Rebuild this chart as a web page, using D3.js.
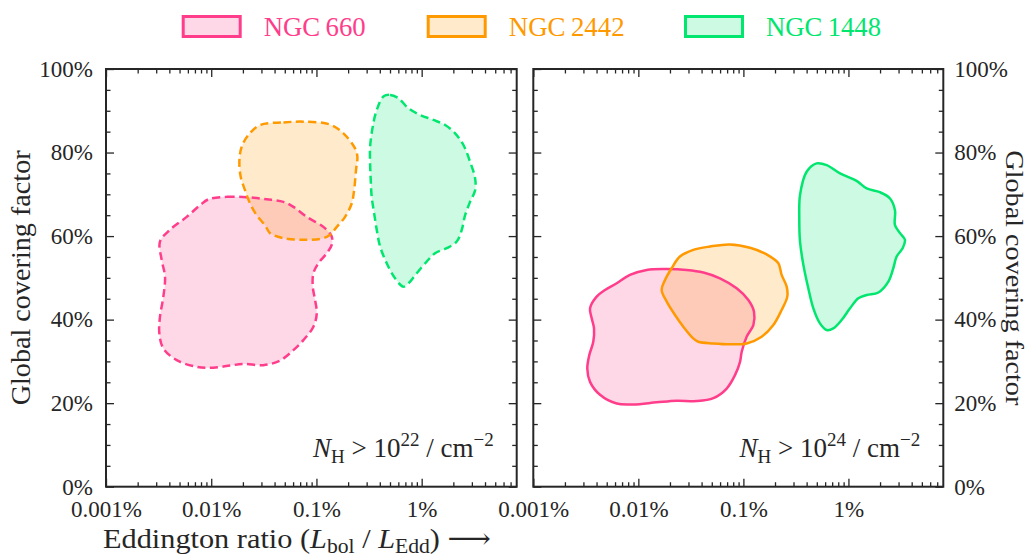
<!DOCTYPE html>
<html>
<head>
<meta charset="utf-8">
<script src="https://cdn.jsdelivr.net/npm/d3@7"></script>
<style>
  body { margin: 0; background: #fff; }
  svg { display: block; }
  svg text { font-family: "Liberation Serif", "Times New Roman", Tinos, "DejaVu Serif", "Noto Serif", serif !important; fill: #262626; }
</style>
</head>
<body>
<svg id="chart" width="1033" height="556"></svg>
<script>
// Galaxies and their colours
const galaxies = ["NGC\u2009660", "NGC\u20092442", "NGC\u20091448"];
const colors = ["#ff3d8b", "#ff9900", "#00e66e"];

// Column density thresholds (exponent of N_H in cm^-2), one per panel
const thresholds = ["22", "24"];

// Axis ticks
const xTickValues = [1e-5, 1e-4, 1e-3, 1e-2];
const xTickLabels = ["0.001%", "0.01%", "0.1%", "1%"];
const yTickValues = [0, 20, 40, 60, 80, 100];
const yTickLabels = ["0%", "20%", "40%", "60%", "80%", "100%"];

// Contours: [log10 Eddington ratio, global covering factor in %]
// N_H > 1e22 cm^-2
const ngc660_22 = [
  [-4.027, 68.8], [-3.853, 69.4], [-3.663, 69.3], [-3.473, 68.8], [-3.314, 68.2],
  [-3.219, 67.0], [-3.092, 64.6], [-2.934, 62.2], [-2.855, 59.9], [-2.855, 57.9],
  [-2.902, 55.9], [-2.982, 53.5], [-3.029, 51.1], [-3.035, 47.9], [-3.013, 44.7],
  [-2.997, 41.5], [-3.029, 38.3], [-3.124, 35.1], [-3.219, 32.7], [-3.346, 30.2],
  [-3.504, 29.1], [-3.695, 29.4], [-3.821, 29.0], [-3.980, 28.5], [-4.138, 28.7],
  [-4.328, 30.3], [-4.455, 33.1], [-4.493, 36.7], [-4.487, 40.7], [-4.455, 45.5],
  [-4.439, 50.3], [-4.471, 54.3], [-4.487, 58.7], [-4.392, 61.5], [-4.233, 64.6],
  [-4.106, 67.4]
];
const ngc2442_22 = [
  [-3.536, 86.6], [-3.314, 87.2], [-3.124, 87.4], [-2.871, 86.7], [-2.744, 84.6],
  [-2.633, 81.0], [-2.611, 79.0], [-2.624, 75.8], [-2.642, 71.0], [-2.665, 67.8],
  [-2.728, 64.6], [-2.807, 62.2], [-2.871, 60.3], [-2.934, 59.5], [-3.124, 59.1],
  [-3.314, 59.5], [-3.441, 60.7], [-3.489, 62.6], [-3.568, 65.0], [-3.631, 67.8],
  [-3.679, 71.0], [-3.720, 74.2], [-3.732, 78.2], [-3.710, 81.4], [-3.647, 84.2]
];
const ngc1448_22 = [
  [-2.364, 93.4], [-2.300, 93.8], [-2.221, 93.0], [-2.126, 90.6], [-2.015, 89.0],
  [-1.888, 87.8], [-1.777, 86.6], [-1.682, 84.6], [-1.603, 81.8], [-1.540, 77.8],
  [-1.492, 73.8], [-1.492, 71.0], [-1.540, 68.2], [-1.587, 65.0], [-1.619, 61.5],
  [-1.667, 58.7], [-1.762, 57.1], [-1.873, 55.9], [-1.952, 53.9], [-2.047, 51.1],
  [-2.126, 48.7], [-2.174, 47.9], [-2.253, 49.9], [-2.332, 53.5], [-2.395, 57.5],
  [-2.427, 61.5], [-2.452, 65.5], [-2.475, 69.4], [-2.484, 73.4], [-2.490, 77.4],
  [-2.490, 81.4], [-2.465, 86.2], [-2.427, 90.2]
];
// N_H > 1e24 cm^-2
const ngc660_24 = [
  [-4.206, 48.7], [-4.080, 50.7], [-3.921, 51.9], [-3.730, 52.1], [-3.540, 51.9],
  [-3.381, 51.3], [-3.223, 49.9], [-3.064, 47.5], [-2.953, 44.7], [-2.899, 41.9],
  [-2.905, 38.7], [-2.969, 35.9], [-3.016, 32.3], [-3.032, 29.9], [-3.080, 26.7],
  [-3.159, 23.5], [-3.286, 21.2], [-3.445, 20.5], [-3.635, 20.6], [-3.826, 20.2],
  [-4.048, 19.7], [-4.206, 19.9], [-4.365, 22.0], [-4.460, 25.1], [-4.486, 28.3],
  [-4.467, 31.5], [-4.429, 34.7], [-4.422, 37.9], [-4.444, 40.3], [-4.460, 42.7],
  [-4.397, 45.5], [-4.317, 47.1]
];
const ngc2442_24 = [
  [-3.604, 55.1], [-3.477, 56.7], [-3.318, 57.5], [-3.128, 58.0], [-2.937, 57.2],
  [-2.778, 55.6], [-2.667, 53.5], [-2.636, 50.7], [-2.588, 47.9], [-2.582, 45.5],
  [-2.636, 42.3], [-2.715, 38.7], [-2.826, 35.9], [-2.969, 34.3], [-3.128, 34.1],
  [-3.286, 34.3], [-3.429, 34.7], [-3.477, 35.5], [-3.572, 38.3], [-3.651, 41.1],
  [-3.730, 44.3], [-3.778, 47.1], [-3.746, 49.5], [-3.683, 52.3]
];
const ngc1448_24 = [
  [-2.398, 75.4], [-2.303, 77.4], [-2.207, 77.0], [-2.080, 75.0], [-1.922, 73.2],
  [-1.826, 71.4], [-1.700, 70.5], [-1.604, 69.0], [-1.557, 66.2], [-1.557, 62.6],
  [-1.509, 60.7], [-1.462, 59.1], [-1.484, 57.1], [-1.541, 55.1], [-1.573, 52.3],
  [-1.620, 49.1], [-1.715, 46.5], [-1.826, 45.9], [-1.906, 45.1], [-1.985, 42.7],
  [-2.065, 39.9], [-2.144, 37.9], [-2.207, 37.5], [-2.271, 39.1], [-2.334, 42.7],
  [-2.382, 47.5], [-2.429, 53.1], [-2.461, 58.7], [-2.468, 64.2], [-2.461, 69.8]
];

const panelContours = [
  [ngc660_22, ngc2442_22, ngc1448_22],
  [ngc660_24, ngc2442_24, ngc1448_24]
];

const FONT = "'Liberation Serif', 'Times New Roman', Tinos, 'DejaVu Serif', 'Noto Serif', serif";
const svg = d3.select("#chart").attr("font-family", FONT);
const plotTop = 69, plotBottom = 486.7;
const panelX = [[106, 516.7], [533.3, 943.3]];

const y = d3.scaleLinear().domain([0, 100]).range([plotBottom, plotTop]);
const yMinor = d3.range(0, 101, 5).filter(v => v % 20 !== 0);

function minorDecades(domain) {
  const out = [];
  for (let e = -6; e <= 0; e++) {
    for (let k = 2; k <= 9; k++) {
      const v = k * Math.pow(10, e);
      if (v > domain[0] && v < domain[1]) out.push(v);
    }
  }
  return out;
}

function styleAxis(sel) {
  sel.attr("font-family", FONT);
  sel.select(".domain").remove();
  sel.selectAll(".tick line").attr("stroke", "#262626").attr("stroke-width", 1.3);
  sel.selectAll(".tick text").attr("font-size", 23).attr("fill", "#262626");
}

panelContours.forEach((contours, p) => {
  const [x0, x1] = panelX[p];
  const x = d3.scaleLog().domain([1e-5, 0.08]).range([x0, x1]);
  const xMinor = minorDecades(x.domain());
  const g = svg.append("g");
  const dashed = p === 0;

  // filled contours
  const line = d3.line()
    .x(d => x(Math.pow(10, d[0])))
    .y(d => y(d[1]))
    .curve(d3.curveCatmullRomClosed.alpha(0.5));

  contours.forEach((c, i) => {
    g.append("path")
      .attr("d", line(c))
      .attr("fill", colors[i])
      .attr("fill-opacity", 0.2)
      .attr("stroke", "none");
  });
  contours.forEach((c, i) => {
    g.append("path")
      .attr("d", line(c))
      .attr("fill", "none")
      .attr("stroke", colors[i])
      .attr("stroke-width", 2.5)
      .attr("stroke-linejoin", "round")
      .attr("stroke-dasharray", dashed ? "8,4.5" : null);
  });

  // bottom axis
  g.append("g").attr("transform", `translate(0,${plotBottom})`)
    .call(d3.axisBottom(x).tickValues(xTickValues).tickSize(-8).tickPadding(14)
      .tickFormat((d, i) => xTickLabels[i]))
    .call(styleAxis);
  g.append("g").attr("transform", `translate(0,${plotBottom})`)
    .call(d3.axisBottom(x).tickValues(xMinor).tickSize(-4.5).tickFormat(""))
    .call(styleAxis);
  // top axis
  g.append("g").attr("transform", `translate(0,${plotTop})`)
    .call(d3.axisTop(x).tickValues(xTickValues).tickSize(-8).tickFormat(""))
    .call(styleAxis);
  g.append("g").attr("transform", `translate(0,${plotTop})`)
    .call(d3.axisTop(x).tickValues(xMinor).tickSize(-4.5).tickFormat(""))
    .call(styleAxis);
  // left axis
  g.append("g").attr("transform", `translate(${x0},0)`)
    .call(d3.axisLeft(y).tickValues(yTickValues).tickSize(-8).tickPadding(13)
      .tickFormat((d, i) => p === 0 ? yTickLabels[i] : ""))
    .call(styleAxis);
  g.append("g").attr("transform", `translate(${x0},0)`)
    .call(d3.axisLeft(y).tickValues(yMinor).tickSize(-4.5).tickFormat(""))
    .call(styleAxis);
  // right axis
  g.append("g").attr("transform", `translate(${x1},0)`)
    .call(d3.axisRight(y).tickValues(yTickValues).tickSize(-8).tickPadding(11)
      .tickFormat((d, i) => p === 1 ? yTickLabels[i] : ""))
    .call(styleAxis);
  g.append("g").attr("transform", `translate(${x1},0)`)
    .call(d3.axisRight(y).tickValues(yMinor).tickSize(-4.5).tickFormat(""))
    .call(styleAxis);

  // frame
  g.append("rect")
    .attr("x", x0).attr("y", plotTop)
    .attr("width", x1 - x0).attr("height", plotBottom - plotTop)
    .attr("fill", "none").attr("stroke", "#262626").attr("stroke-width", 2);

  // column density threshold label
  const t = g.append("text")
    .attr("x", x1 - 23).attr("y", 457)
    .attr("text-anchor", "end")
    .attr("font-size", 27);
  t.append("tspan").attr("font-style", "italic").text("N");
  t.append("tspan").attr("font-size", 19).attr("dy", 6).text("H");
  t.append("tspan").attr("dy", -6).text(" > 10");
  t.append("tspan").attr("font-size", 19).attr("dy", -11).text(thresholds[p]);
  t.append("tspan").attr("dy", 11).text(" / cm");
  t.append("tspan").attr("font-size", 19).attr("dy", -11).text("\u22122");
});

// axis titles
const xt = svg.append("text").attr("x", 103).attr("y", 548).attr("font-size", 28)
  .attr("textLength", 388).attr("lengthAdjust", "spacingAndGlyphs");
xt.append("tspan").text("Eddington ratio (");
xt.append("tspan").attr("font-style", "italic").text("L");
xt.append("tspan").attr("font-size", 20).attr("dy", 5).text("bol");
xt.append("tspan").attr("dy", -5).text(" / ");
xt.append("tspan").attr("font-style", "italic").text("L");
xt.append("tspan").attr("font-size", 20).attr("dy", 5).text("Edd");
xt.append("tspan").attr("dy", -5).text(") \u27F6");

svg.append("text")
  .attr("transform", `translate(30,${(plotTop + plotBottom) / 2}) rotate(-90)`)
  .attr("text-anchor", "middle").attr("font-size", 27)
  .attr("textLength", 255).attr("lengthAdjust", "spacingAndGlyphs")
  .text("Global covering factor");
svg.append("text")
  .attr("transform", `translate(1006,${(plotTop + plotBottom) / 2}) rotate(90)`)
  .attr("text-anchor", "middle").attr("font-size", 26)
  .attr("textLength", 255).attr("lengthAdjust", "spacingAndGlyphs")
  .text("Global covering factor");

// legend
const legendX = [181.7, 426.7, 684];
const legendTextWidth = [102, 116, 115];
galaxies.forEach((name, i) => {
  const lg = svg.append("g").attr("transform", `translate(${legendX[i]},15)`);
  lg.append("rect")
    .attr("x", 1.5).attr("y", 1.5).attr("width", 57).attr("height", 20)
    .attr("fill", colors[i]).attr("fill-opacity", 0.2)
    .attr("stroke", colors[i]).attr("stroke-width", 3);
  lg.append("text")
    .attr("x", 82).attr("y", 21)
    .attr("font-size", 28)
    .attr("textLength", legendTextWidth[i]).attr("lengthAdjust", "spacingAndGlyphs")
    .style("fill", colors[i])
    .text(name);
});
</script>
</body>
</html>
